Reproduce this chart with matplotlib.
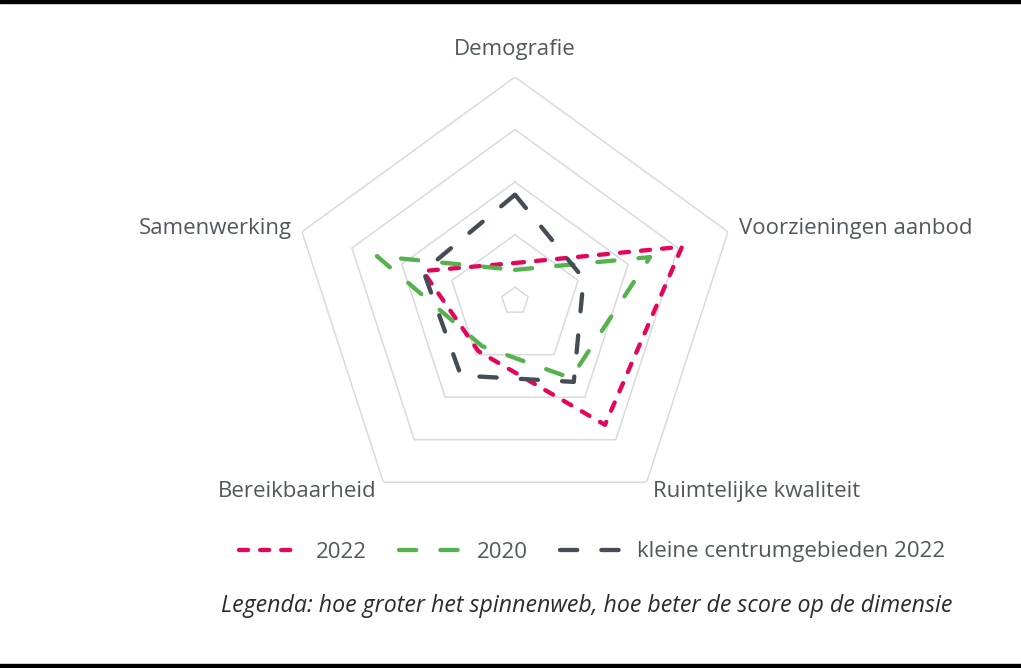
import numpy as np
import matplotlib.pyplot as plt
from matplotlib.lines import Line2D
from matplotlib.patches import Rectangle

# dimensions, clockwise from the top
dimensions = ['Demografie', 'Voorzieningen aanbod', 'Ruimtelijke kwaliteit',
              'Bereikbaarheid', 'Samenwerking']
score_2022 = [1.46, 4.08, 3.65, 1.92, 2.58]
score_2020 = [1.33, 3.44, 2.55, 1.80, 3.50]
score_klein_2022 = [2.76, 2.11, 2.64, 2.49, 2.57]
series_names = ['2022', '2020', 'kleine centrumgebieden 2022']
ring_values = [1, 2, 3, 4, 5]

plt.rcParams['font.family'] = ['Open Sans', 'DejaVu Sans']

fig = plt.figure(figsize=(10.21, 6.68), dpi=100)
W, H = 1021, 668
cx, cy, R = 515, 301, 224
ax = fig.add_axes([(cx - R) / W, (H - cy - R) / H, 2 * R / W, 2 * R / H], projection='polar')
ax.set_theta_offset(np.pi / 2)
ax.set_theta_direction(-1)
ax.set_ylim(0.737, 5)
ax.axis('off')

angles = np.linspace(0, 2 * np.pi, len(dimensions), endpoint=False)
closed = np.append(angles, angles[0])

# pentagon grid
for v in ring_values:
    ax.plot(closed, [v] * len(closed), color='#dadada', lw=1.1, zorder=1)

def close(vals):
    return list(vals) + [vals[0]]

colors = ['#e4065a', '#55b24e', '#464c55']
lw = 3.1
dashes = [(2.1, 2.8), (4.0, 5.6), (4.0, 5.6)]
for vals, col, ds, name in zip([score_2022, score_2020, score_klein_2022],
                               colors, dashes, series_names):
    ax.plot(closed, close(vals), color=col, lw=lw, dashes=ds,
            dash_capstyle='round', label=name, zorder=3)

text_col = '#52575e'
fs = 16
ax.text(angles[0], 5.52, dimensions[0], ha='center', va='center', fontsize=fs, color=text_col)
ax.text(angles[1], 5.21, dimensions[1], ha='left', va='center', fontsize=fs, color=text_col)
ax.text(angles[2], 5.21, dimensions[2], ha='left', va='center', fontsize=fs, color=text_col)
ax.text(angles[3], 5.21, dimensions[3], ha='right', va='center', fontsize=fs, color=text_col)
ax.text(angles[4], 5.21, dimensions[4], ha='right', va='center', fontsize=fs, color=text_col)

handles = [Line2D([], [], color=c, lw=lw, dashes=d, dash_capstyle='round')
           for c, d in zip(colors, dashes)]
leg = fig.legend(handles, series_names, loc='center', bbox_to_anchor=(592 / W, 1 - 552 / H),
                 ncol=3, frameon=False, fontsize=fs, handlelength=2.85,
                 handletextpad=0.63, columnspacing=1.44, labelcolor=text_col)

fig.text(587 / W, 1 - 606 / H,
         'Legenda: hoe groter het spinnenweb, hoe beter de score op de dimensie',
         ha='center', va='center', fontsize=16.7, style='italic', color='#2b2b2b')

# black bars top and bottom
fig.patches.append(Rectangle((0, 1 - 3 / H), 1, 3 / H, transform=fig.transFigure,
                             color='black', zorder=0))
fig.patches.append(Rectangle((0, 0), 1, 4 / H, transform=fig.transFigure,
                             color='black', zorder=0))

plt.savefig('out.png', dpi=100)
